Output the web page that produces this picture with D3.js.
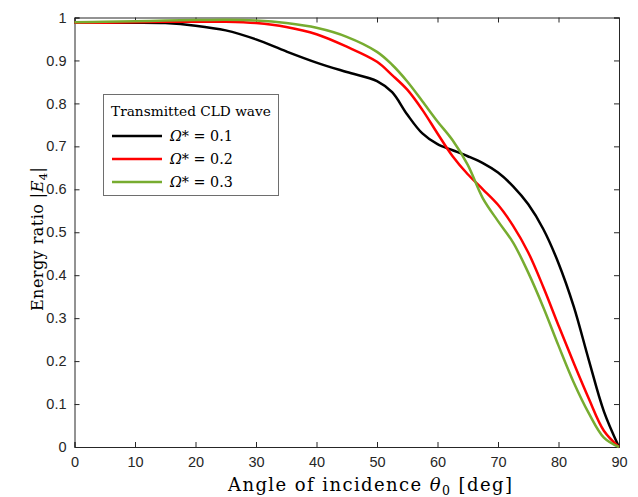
<!DOCTYPE html>
<html lang="en">

<head>
    <meta charset="UTF-8">
    <title>Energy ratio</title>
    <script src="https://d3js.org/d3.v7.min.js"></script>
    <style>
        body { margin: 0; background: #fff; }
    </style>
</head>

<body>
    <script>
        // angle of incidence (deg)
        const theta = [0, 5, 10, 15, 20, 25, 30, 35, 40, 45, 50, 52.5, 55, 57.5, 60, 62.5, 65, 67.5, 70, 72.5, 75, 77.5, 80, 82.5, 85, 87.5, 90];

        // energy ratio, one array per Omega*
        const omega01 = [0.988, 0.988, 0.988, 0.987, 0.981, 0.970, 0.949, 0.921, 0.895, 0.873, 0.852, 0.826, 0.774, 0.730, 0.705, 0.691, 0.677, 0.661, 0.639, 0.607, 0.565, 0.507, 0.428, 0.328, 0.203, 0.083, 0];
        const omega02 = [0.988, 0.988, 0.989, 0.990, 0.990, 0.990, 0.987, 0.978, 0.961, 0.932, 0.897, 0.866, 0.832, 0.785, 0.730, 0.677, 0.635, 0.600, 0.564, 0.515, 0.453, 0.372, 0.283, 0.196, 0.113, 0.038, 0];
        const omega03 = [0.989, 0.990, 0.991, 0.993, 0.994, 0.995, 0.993, 0.987, 0.976, 0.955, 0.920, 0.890, 0.851, 0.805, 0.758, 0.714, 0.657, 0.579, 0.526, 0.476, 0.406, 0.325, 0.236, 0.151, 0.079, 0.022, 0];

        const seriesNames = ["0.1", "0.2", "0.3"];
        const seriesColors = ["#000000", "#ff0000", "#77ac30"];
        const seriesValues = [omega01, omega02, omega03];

        const xTicks = [0, 10, 20, 30, 40, 50, 60, 70, 80, 90];
        const yTicks = [0, 0.1, 0.2, 0.3, 0.4, 0.5, 0.6, 0.7, 0.8, 0.9, 1];

        // plot box
        const W = 638, H = 497;
        const box = { left: 74.5, top: 17.5, right: 619, bottom: 447 };

        const svg = d3.select("body")
            .append("svg")
            .attr("width", W)
            .attr("height", H);

        const x = d3.scaleLinear().domain([0, 90]).range([box.left, box.right]);
        const y = d3.scaleLinear().domain([0, 1]).range([box.bottom, box.top]);

        const axisColor = "#262626";
        const tickFont = "'Liberation Sans', Arial, sans-serif";
        const serif = "'DejaVu Serif', 'Liberation Serif', serif";

        // axes (ticks inward, box on)
        const gx = svg.append("g")
            .attr("transform", "translate(0," + box.bottom + ")")
            .call(d3.axisBottom(x).tickValues(xTicks).tickSize(-5).tickPadding(10).tickFormat(d3.format("d")));
        const gxTop = svg.append("g")
            .attr("transform", "translate(0," + box.top + ")")
            .call(d3.axisTop(x).tickValues(xTicks).tickSize(-5).tickFormat(""));
        const gy = svg.append("g")
            .attr("transform", "translate(" + box.left + ",0)")
            .call(d3.axisLeft(y).tickValues(yTicks).tickSize(-5).tickPadding(8).tickFormat(d => d === 0 || d === 1 ? d3.format("d")(d) : d3.format(".1f")(d)));
        const gyRight = svg.append("g")
            .attr("transform", "translate(" + box.right + ",0)")
            .call(d3.axisRight(y).tickValues(yTicks).tickSize(-5).tickFormat(""));

        [gx, gxTop, gy, gyRight].forEach(g => {
            g.select(".domain").attr("stroke", axisColor).attr("stroke-width", 1);
            g.selectAll(".tick line").attr("stroke", axisColor);
            g.selectAll(".tick text")
                .attr("fill", axisColor)
                .style("font-family", tickFont)
                .style("font-size", "14.5px");
        });

        // curves
        const line = d3.line()
            .x((d, i) => x(theta[i]))
            .y(d => y(d))
            .curve(d3.curveCatmullRom.alpha(0.5));

        seriesValues.forEach((vals, k) => {
            svg.append("path")
                .datum(vals)
                .attr("fill", "none")
                .attr("stroke", seriesColors[k])
                .attr("stroke-width", 2.5)
                .attr("d", line);
        });

        // axis titles
        const xt = svg.append("text")
            .attr("x", 228)
            .attr("y", 491)
            .attr("textLength", 284)
            .attr("lengthAdjust", "spacing")
            .style("font-family", serif)
            .style("font-size", "18px")
            .attr("fill", "#000");
        xt.append("tspan").text("Angle of incidence ");
        xt.append("tspan").attr("font-style", "italic").text("θ");
        xt.append("tspan").attr("font-size", "12.5px").attr("dy", 4).text("0");
        xt.append("tspan").attr("dy", -4).text(" [deg]");

        const yt = svg.append("text")
            .attr("transform", "translate(43,311) rotate(-90)")
            .attr("textLength", 144)
            .attr("lengthAdjust", "spacing")
            .style("font-family", serif)
            .style("font-size", "16px")
            .attr("fill", "#000");
        yt.append("tspan").text("Energy ratio |");
        yt.append("tspan").attr("font-style", "italic").text("E");
        yt.append("tspan").attr("font-size", "11.5px").attr("dy", 4).text("4");
        yt.append("tspan").attr("dy", -4).text("|");

        // legend
        const lg = svg.append("g");
        lg.append("rect")
            .attr("x", 103.5).attr("y", 94.5)
            .attr("width", 175).attr("height", 101)
            .attr("fill", "#fff")
            .attr("stroke", "#6e6e6e")
            .attr("stroke-width", 1);
        lg.append("text")
            .attr("x", 111).attr("y", 116)
            .style("font-family", serif)
            .style("font-size", "13.7px")
            .attr("fill", "#000")
            .text("Transmitted CLD wave");

        seriesNames.forEach((name, k) => {
            const ly = 136 + k * 23;
            lg.append("line")
                .attr("x1", 112).attr("x2", 162)
                .attr("y1", ly).attr("y2", ly)
                .attr("stroke", seriesColors[k])
                .attr("stroke-width", 2.5);
            const t = lg.append("text")
                .attr("x", 170).attr("y", ly + 5)
                .style("font-family", serif)
                .style("font-size", "14.3px")
                .attr("fill", "#000");
            t.append("tspan").attr("font-style", "italic").text("Ω");
            t.append("tspan").text("* = " + name);
        });
    </script>
</body>

</html>
